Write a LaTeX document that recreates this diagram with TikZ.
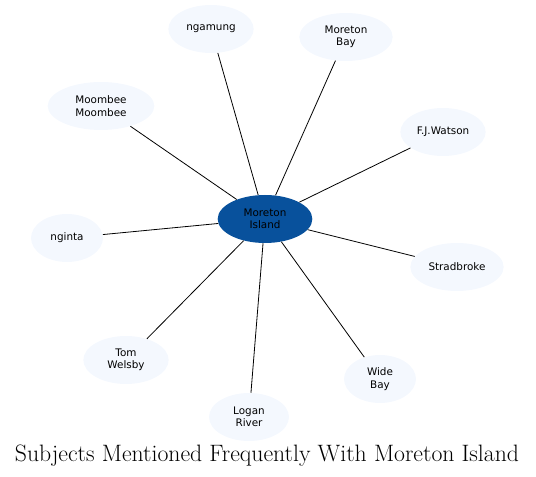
\documentclass[tikz,border=0pt]{standalone}
\usepackage{fontspec}
\newfontfamily\labelfont{DejaVu Sans}
\usetikzlibrary{shapes.geometric, positioning}
\definecolor{hubblue}{RGB}{8,81,156}
\definecolor{leafblue}{RGB}{244,248,254}
\tikzset{
  hub/.style={ellipse, fill=hubblue, inner sep=0pt, minimum width=71pt, minimum height=36pt,
    align=center, font=\labelfont\fontsize{7.8}{9.2}\selectfont},
  leaf/.style={ellipse, fill=leafblue, inner sep=0pt, minimum height=36pt,
    align=center, font=\labelfont\fontsize{7.8}{9.2}\selectfont},
  link/.style={line width=0.6pt}
}

\begin{document}
\begin{tikzpicture}[x=0.75pt, y=-0.75pt]
  \useasboundingbox (0,0) rectangle (536,477);
  % centre
  \node[hub] (moreton) at (265,219) {Moreton\\Island};
  % subjects
  \node[leaf, minimum width=64pt] (ngamung) at (211,29) {ngamung};
  \node[leaf, minimum width=70pt] (bay) at (346,37) {Moreton\\Bay};
  \node[leaf, minimum width=80pt] (moombee) at (101,106) {Moombee\\Moombee};
  \node[leaf, minimum width=64pt] (watson) at (443,132) {F.J.Watson};
  \node[leaf, minimum width=54pt] (nginta) at (67,238) {nginta};
  \node[leaf, minimum width=70pt] (stradbroke) at (457,267) {Stradbroke};
  \node[leaf, minimum width=64pt] (welsby) at (126,360) {Tom\\Welsby};
  \node[leaf, minimum width=54pt] (widebay) at (380,379) {Wide\\Bay};
  \node[leaf, minimum width=60pt] (logan) at (249,417) {Logan\\River};
  % links
  \foreach \s in {ngamung, bay, moombee, watson, nginta, stradbroke, welsby, widebay, logan}
    \draw[link] (moreton) -- (\s);
  % title
  \node[font=\fontsize{17.8}{20}\selectfont] (title) at (267,456) {Subjects Mentioned Frequently With Moreton Island};
\end{tikzpicture}
\end{document}
